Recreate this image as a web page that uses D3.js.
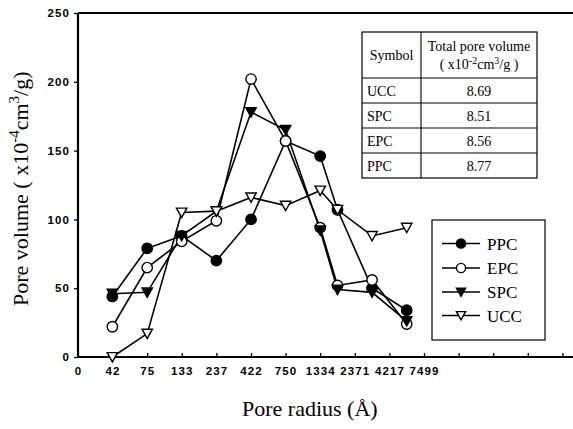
<!DOCTYPE html>
<html>
<head>
<meta charset="utf-8">
<script src="https://cdn.jsdelivr.net/npm/d3@7"></script>
<style>
  html, body { margin: 0; padding: 0; background: #fff; }
  svg { display: block; }
  .tick-lab { font-family: "Liberation Sans", Arial, sans-serif; font-weight: bold; font-size: 11.5px; letter-spacing: 1.1px; }
  .serif { font-family: "Liberation Serif", "Times New Roman", serif; }
</style>
</head>
<body>
<script>
// ---------- DATA ----------
const radii = [42, 75, 133, 237, 422, 750, 1334, 1778, 3162, 5623];
const ppc = [44, 79, 88, 70, 100, 157, 146, 107, 50, 34];
const epc = [22, 65, 84, 99, 202, 157, 94, 52, 56, 24];
const spc = [46, 47, 88, 106, 178, 165, 92, 49, 47, 26];
const ucc = [0, 17, 105, 106, 116, 110, 121, 107, 88, 94];
const seriesNames = ["PPC", "EPC", "SPC", "UCC"];
const xTickLabels = ["0", "42", "75", "133", "237", "422", "750", "1334", "2371", "4217", "7499", "", "", "", ""];
const yTicks = [0, 50, 100, 150, 200, 250];
const tableSymbols = ["UCC", "SPC", "EPC", "PPC"];
const tableTotals = ["8.69", "8.51", "8.56", "8.77"];

// ---------- SETUP ----------
const W = 573, H = 429;
const svg = d3.select("body").append("svg").attr("width", W).attr("height", H);

const pL = 78, pT = 13, pB = 357;
const step = 34.6;
const x = d3.scaleLog()
  .domain([Math.pow(10, 1.375), Math.pow(10, 1.375 + 0.25 * 15)])
  .range([pL, pL + 15 * step]);
const y = d3.scaleLinear().domain([0, 250]).range([pB, pT]);

const xTickVals = d3.range(15).map(k => Math.pow(10, 1.375 + 0.25 * k));

// frame: top border
svg.append("line").attr("x1", pL).attr("x2", W + 5).attr("y1", pT).attr("y2", pT)
  .attr("stroke", "#000").attr("stroke-width", 2);

// x axis
const xAxis = d3.axisBottom(x).tickValues(xTickVals).tickSize(-4).tickPadding(10)
  .tickFormat((d, i) => xTickLabels[i]);
const gx = svg.append("g").attr("transform", `translate(0,${pB})`).call(xAxis);
gx.select(".domain").attr("stroke-width", 2.2).attr("d", `M${pL},0H${W + 5}`);
gx.selectAll(".tick line").attr("stroke-width", 1.3);
gx.selectAll(".tick text").attr("class", "tick-lab").attr("fill", "#000");

// y axis
const yAxis = d3.axisLeft(y).tickValues(yTicks).tickSize(4).tickPadding(4);
const gy = svg.append("g").attr("transform", `translate(${pL},0)`).call(yAxis);
gy.select(".domain").attr("stroke-width", 2.2).attr("d", `M0,${pT}V${pB}`);
gy.selectAll(".tick line").attr("stroke-width", 1.3);
gy.selectAll(".tick text").attr("class", "tick-lab").attr("fill", "#000");

// ---------- SERIES ----------
const allSeries = [
  { name: "PPC", vals: ppc, shape: "circle", fill: "#000" },
  { name: "EPC", vals: epc, shape: "circle", fill: "#fff" },
  { name: "SPC", vals: spc, shape: "tri", fill: "#000" },
  { name: "UCC", vals: ucc, shape: "tri", fill: "#fff" }
];

const line = d3.line().x(d => x(d[0])).y(d => y(d[1]));
allSeries.forEach(s => {
  const pts = radii.map((r, i) => [r, s.vals[i]]);
  svg.append("path").datum(pts).attr("d", line)
    .attr("fill", "none").attr("stroke", "#000").attr("stroke-width", 1.6);
});

function triPath(sz) {
  const hw = sz, ht = sz * 0.85, hb = sz * 0.95;
  return `M${-hw},${-ht}L${hw},${-ht}L0,${hb}Z`;
}
function drawMarker(g, shape, fill, cx, cy, sz) {
  if (shape === "circle") {
    g.append("circle").attr("cx", cx).attr("cy", cy).attr("r", sz)
      .attr("fill", fill).attr("stroke", "#000").attr("stroke-width", 1.4);
  } else {
    g.append("path").attr("d", triPath(sz)).attr("transform", `translate(${cx},${cy})`)
      .attr("fill", fill).attr("stroke", "#000").attr("stroke-width", 1.4).attr("stroke-linejoin", "miter");
  }
}
allSeries.forEach(s => {
  const g = svg.append("g");
  radii.forEach((r, i) => drawMarker(g, s.shape, s.fill, x(r), y(s.vals[i]), 5.2));
});

// ---------- AXIS TITLES ----------
const yt = svg.append("text").attr("class", "serif").attr("font-size", 22)
  .attr("transform", "translate(28,306) rotate(-90)").attr("text-anchor", "start");
yt.append("tspan").text("Pore volume ( x10");
yt.append("tspan").attr("dy", -9).attr("font-size", 15).text("-4");
yt.append("tspan").attr("dy", 9).text("cm");
yt.append("tspan").attr("dy", -9).attr("font-size", 15).text("3");
yt.append("tspan").attr("dy", 9).text("/g)");

svg.append("text").attr("class", "serif").attr("font-size", 22)
  .attr("x", 242).attr("y", 416).text("Pore radius (Å)");

// ---------- TABLE ----------
const tb = svg.append("g").attr("class", "serif");
const tL = 362, tM = 421, tR = 537;
const rowY = [32, 78, 103, 128, 153, 178];
tb.append("rect").attr("x", tL).attr("y", rowY[0]).attr("width", tR - tL).attr("height", rowY[5] - rowY[0])
  .attr("fill", "#fff").attr("stroke", "#000").attr("stroke-width", 1.2);
tb.append("line").attr("x1", tM).attr("x2", tM).attr("y1", rowY[0]).attr("y2", rowY[5])
  .attr("stroke", "#000").attr("stroke-width", 1.1);
rowY.slice(1, 5).forEach(yy => {
  tb.append("line").attr("x1", tL).attr("x2", tR).attr("y1", yy).attr("y2", yy)
    .attr("stroke", "#000").attr("stroke-width", 1.1);
});
tb.append("text").attr("x", (tL + tM) / 2).attr("y", 60).attr("text-anchor", "middle")
  .attr("font-size", 14).text("Symbol");
tb.append("text").attr("x", (tM + tR) / 2).attr("y", 51).attr("text-anchor", "middle")
  .attr("font-size", 14).text("Total pore volume");
const hd = tb.append("text").attr("x", (tM + tR) / 2).attr("y", 69).attr("text-anchor", "middle")
  .attr("font-size", 14);
hd.append("tspan").text("( x10");
hd.append("tspan").attr("dy", -5).attr("font-size", 10).text("-2");
hd.append("tspan").attr("dy", 5).text("cm");
hd.append("tspan").attr("dy", -5).attr("font-size", 10).text("3");
hd.append("tspan").attr("dy", 5).text("/g )");
tableSymbols.forEach((s, i) => {
  const cy = (rowY[i + 1] + rowY[i + 2]) / 2 + 5;
  tb.append("text").attr("x", tL + 5).attr("y", cy).attr("font-size", 14).text(s);
  tb.append("text").attr("x", (tM + tR) / 2).attr("y", cy).attr("text-anchor", "middle")
    .attr("font-size", 14).text(tableTotals[i]);
});

// ---------- LEGEND ----------
const lg = svg.append("g");
lg.append("rect").attr("x", 432).attr("y", 220).attr("width", 113).attr("height", 120)
  .attr("fill", "#fff").attr("stroke", "#000").attr("stroke-width", 1.2);
const legY = [243.5, 268, 292, 315.5];
allSeries.forEach((s, i) => {
  lg.append("line").attr("x1", 442).attr("x2", 480).attr("y1", legY[i]).attr("y2", legY[i])
    .attr("stroke", "#000").attr("stroke-width", 1.6);
  drawMarker(lg, s.shape, s.fill, 461, legY[i], 4.6);
  lg.append("text").attr("class", "serif").attr("font-size", 17)
    .attr("x", 487).attr("y", legY[i] + 6).text(seriesNames[i]);
});
</script>
</body>
</html>
